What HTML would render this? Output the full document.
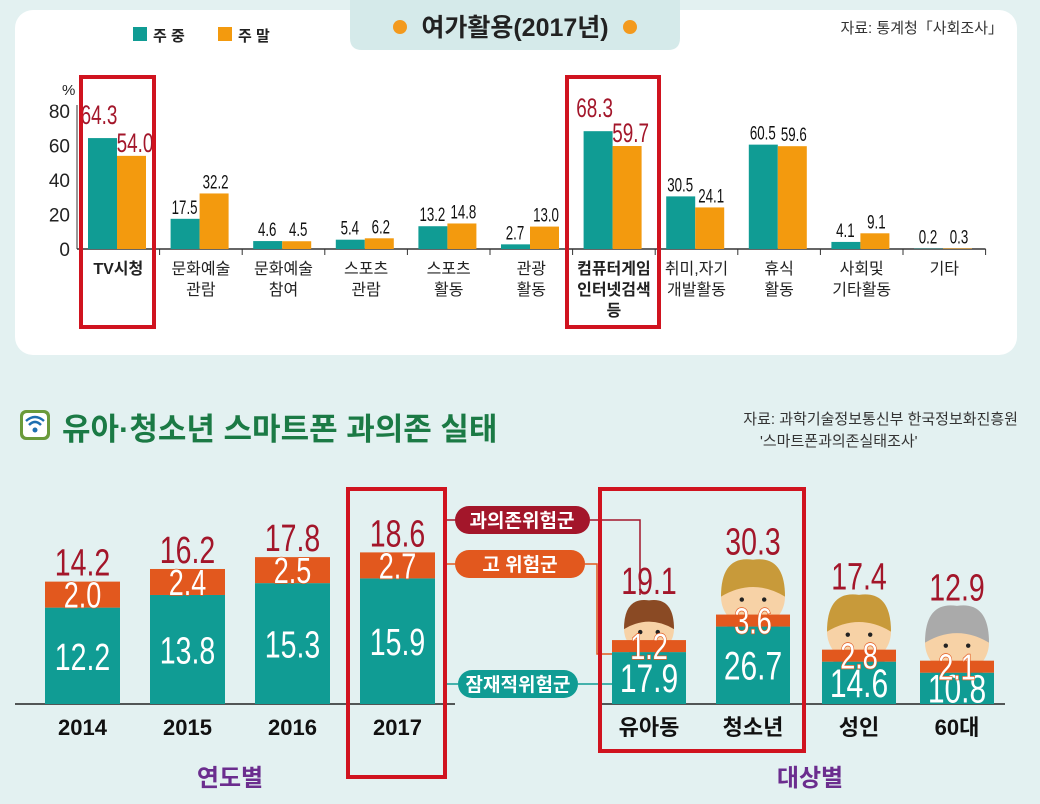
<!DOCTYPE html>
<html><head><meta charset="utf-8"><style>
body{margin:0;width:1040px;height:804px;background:#e3f1f1;overflow:hidden}
svg{display:block}
text{font-family:"Liberation Sans","Noto Sans CJK KR",sans-serif}
</style></head><body>
<svg id="s" width="1040" height="804" viewBox="0 0 1040 804">
<rect x="15" y="10" width="1002" height="345" rx="18" fill="#fff"/>
<path d="M350 0 H680 V38 Q680 50 668 50 H362 Q350 50 350 38Z" fill="#d5eaea"/>
<circle cx="400" cy="27" r="7" fill="#f39a1e"/><circle cx="630" cy="27" r="7" fill="#f39a1e"/>
<text x="515" y="36" text-anchor="middle" font-size="25" font-weight="bold" fill="#222">여가활용(2017년)</text>
<text x="1003" y="33" text-anchor="end" font-size="15" fill="#333">자료: 통계청「사회조사」</text>
<rect x="133" y="27" width="14" height="14" fill="#109c94"/>
<text x="153" y="41" font-size="15" font-weight="bold" fill="#222">주 중</text>
<rect x="218" y="27" width="14" height="14" fill="#f39a0e"/>
<text x="238" y="41" font-size="15" font-weight="bold" fill="#222">주 말</text>
<g id="topG"></g>
<g>
<rect x="20" y="410" width="30" height="30" rx="6" fill="#6a9a3a"/>
<rect x="23" y="413" width="24" height="24" rx="4" fill="#fff"/>
<circle cx="35" cy="430" r="2.5" fill="#1e6fb0"/>
<path d="M29 425 Q35 419 41 425" stroke="#1e6fb0" stroke-width="2.5" fill="none"/>
<path d="M26 421 Q35 413 44 421" stroke="#1e6fb0" stroke-width="2.5" fill="none"/>
</g>
<text x="62" y="440" font-size="31" font-weight="bold" fill="#1b7a45">유아·청소년 스마트폰 과의존 실태</text>
<text x="1018" y="424" text-anchor="end" font-size="15" fill="#333">자료: 과학기술정보통신부 한국정보화진흥원</text>
<text x="760" y="446" font-size="15" fill="#333">'스마트폰과의존실태조사'</text>
<line x1="15" y1="704" x2="455" y2="704" stroke="#222" stroke-width="1.5"/>
<line x1="600" y1="704" x2="1005" y2="704" stroke="#222" stroke-width="1.5"/>
<g id="botG"></g>
<path d="M590 520 H640 V595" stroke="#a3162a" stroke-width="1.5" fill="none"/>
<path d="M585 564 H597 V654 H612" stroke="#e2581e" stroke-width="1.5" fill="none"/>
<line x1="578" y1="684" x2="612" y2="684" stroke="#109c94" stroke-width="1.5"/>
<line x1="446" y1="520" x2="456" y2="520" stroke="#a3162a" stroke-width="1.5"/>
<line x1="446" y1="564" x2="456" y2="564" stroke="#e2581e" stroke-width="1.5"/>
<line x1="446" y1="684" x2="458" y2="684" stroke="#109c94" stroke-width="1.5"/>
<g><rect x="455" y="506" width="135" height="28" rx="14" fill="#a3162a"/><text x="522" y="527" text-anchor="middle" font-size="19" font-weight="bold" fill="#fff">과의존위험군</text></g>
<g><rect x="455" y="550" width="130" height="28" rx="14" fill="#e2581e"/><text x="520" y="571" text-anchor="middle" font-size="19" font-weight="bold" fill="#fff">고 위험군</text></g>
<g><rect x="458" y="670" width="120" height="28" rx="14" fill="#109c94"/><text x="518" y="691" text-anchor="middle" font-size="19" font-weight="bold" fill="#fff">잠재적위험군</text></g>
<rect x="348" y="489" width="97" height="288" fill="none" stroke="#d0131f" stroke-width="4"/>
<rect x="600" y="489" width="204" height="262" fill="none" stroke="#d0131f" stroke-width="4"/>
<rect x="81" y="77" width="73" height="250" fill="none" stroke="#d0131f" stroke-width="4"/>
<rect x="567" y="77" width="92" height="250" fill="none" stroke="#d0131f" stroke-width="4"/>
<text x="230" y="786" text-anchor="middle" font-size="24" font-weight="bold" fill="#6b2d8e">연도별</text>
<text x="810" y="786" text-anchor="middle" font-size="24" font-weight="bold" fill="#6b2d8e">대상별</text>
</svg>
<script>
const NS="http://www.w3.org/2000/svg";
const topCats=[["TV시청"],["문화예술","관람"],["문화예술","참여"],["스포츠","관람"],["스포츠","활동"],["관광","활동"],["컴퓨터게임","인터넷검색","등"],["취미,자기","개발활동"],["휴식","활동"],["사회및","기타활동"],["기타"]];
const weekday=[64.3,17.5,4.6,5.4,13.2,2.7,68.3,30.5,60.5,4.1,0.2];
const weekend=[54.0,32.2,4.5,6.2,14.8,13.0,59.7,24.1,59.6,9.1,0.3];
const yTicks=[0,20,40,60,80];
const years=["2014","2015","2016","2017"];
const yearPotential=[12.2,13.8,15.3,15.9];
const yearHigh=[2.0,2.4,2.5,2.7];
const yearTotal=[14.2,16.2,17.8,18.6];
const subjects=["유아동","청소년","성인","60대"];
const subjPotential=[17.9,26.7,14.6,10.8];
const subjHigh=[1.2,3.6,2.8,2.1];
const subjTotal=[19.1,30.3,17.4,12.9];

function el(t,a,p,txt){const e=document.createElementNS(NS,t);for(const k in a)e.setAttribute(k,a[k]);if(txt!=null)e.textContent=txt;p.appendChild(e);return e;}
function ct(p,x,y,str,size,fill,sx,extra){const a={transform:`translate(${x},${y}) scale(${sx},1)`,'text-anchor':'middle','font-size':size,fill:fill};Object.assign(a,extra||{});return el('text',a,p,str);}
const topG=document.getElementById('topG'),botG=document.getElementById('botG');
const X0=77,GW=82.6,Y0=249,YS=138/80;
const yS=v=>Y0-v*YS, gx=i=>X0+i*GW;
el('line',{x1:X0,y1:105,x2:X0,y2:Y0,stroke:'#333'},topG);
el('line',{x1:X0,y1:Y0,x2:X0+11*GW,y2:Y0,stroke:'#333','stroke-width':1.5},topG);
el('text',{x:62,y:95,'font-size':15,fill:'#222'},topG,'%');
yTicks.forEach(t=>{const e=el('text',{x:70,y:yS(t)+7,'text-anchor':'end','font-size':19,fill:'#222'},topG,String(t));

});
const hl=[0,6];
topCats.forEach((c,i)=>{
 const g=gx(i),r=hl.includes(i);
 el('line',{x1:g+GW,y1:Y0,x2:g+GW,y2:Y0+6,stroke:'#333'},topG);
 const b1=el('rect',{x:g+11,y:yS(weekday[i]),width:29,height:weekday[i]*YS,fill:'#109c94'},topG);
 
 
 const b2=el('rect',{x:g+40,y:yS(weekend[i]),width:29,height:weekend[i]*YS,fill:'#f39a0e'},topG);
 
 
 const fs=r?27:19,col=r?'#a3162a':'#111';
 ct(topG,g+(r?22:25),yS(weekday[i])-(r?14:5),weekday[i].toFixed(1),fs,col,0.7);
 ct(topG,g+(r?58:56),yS(weekend[i])-(r?4:5),weekend[i].toFixed(1),fs,col,0.7);
 c.forEach((l,k)=>{const t=el('text',{x:g+GW/2,y:274+k*21,'text-anchor':'middle','font-size':16,fill:'#222','font-weight':r?'bold':'normal'},topG,l);
 
 });
});

const BY=704;
function stack(x,w,pot,hi,tot,sc,hmin,name,label,extra,fsIn){
 const th=pot*sc,hh=Math.max(hi*sc,hmin);
 const a=el('rect',{x:x,y:BY-th,width:w,height:th,fill:'#109c94'},botG);
 
 
 const b=el('rect',{x:x,y:BY-th-hh,width:w,height:hh,fill:'#e2581e'},botG);
 
 
 ct(botG,x+w/2,BY-th/2+14,pot.toFixed(1),fsIn,'#fff',0.75);
 ct(botG,x+w/2,BY-th-hh/2+13,hi.toFixed(1),36,'#fff',0.75,{stroke:'#e2581e','stroke-width':1.5,'paint-order':'stroke'});
 ct(botG,x+w/2,BY-th-hh-6-extra,tot.toFixed(1),38,'#a3162a',0.75);
 const l=el('text',{x:x+w/2,y:735,'text-anchor':'middle','font-size':22,'font-weight':'bold',fill:'#111'},botG,label);
 
 
}
years.forEach((yy,i)=>stack(45+i*105,75,yearPotential[i],yearHigh[i],yearTotal[i],7.9,26,'bar-'+yy,yy,0,38));
function face(cx,cy,r,hair){
 el('rect',{x:cx-r*0.8,y:cy+r*0.6,width:r*1.6,height:r,rx:6,fill:'#6a8fb0'},botG);
 el('circle',{cx:cx,cy:cy,r:r,fill:'#f7d2a6'},botG);
 el('path',{d:`M${cx-r} ${cy} Q${cx-r} ${cy-r*1.3} ${cx} ${cy-r*1.15} Q${cx+r} ${cy-r*1.3} ${cx+r} ${cy} Q${cx} ${cy-r*0.6} ${cx-r} ${cy}Z`,fill:hair},botG);
 el('circle',{cx:cx-r*0.35,cy:cy+3,r:2.2,fill:'#222'},botG);el('circle',{cx:cx+r*0.35,cy:cy+3,r:2.2,fill:'#222'},botG);
}
const sxs=[612,716,822,920],hairs=['#8a4a24','#c89a3a','#c89a3a','#aaa'];
subjects.forEach((s,i)=>{
 const sc=2.9, th=subjPotential[i]*sc+Math.max(subjHigh[i]*sc,12);
 const r=i==0?25:32;
 face(sxs[i]+37,BY-th-r+14,r,hairs[i]);
 stack(sxs[i],74,subjPotential[i],subjHigh[i],subjTotal[i],sc,12,'bar-'+s,s,r*2-10,40);
});
</script>
</body></html>
